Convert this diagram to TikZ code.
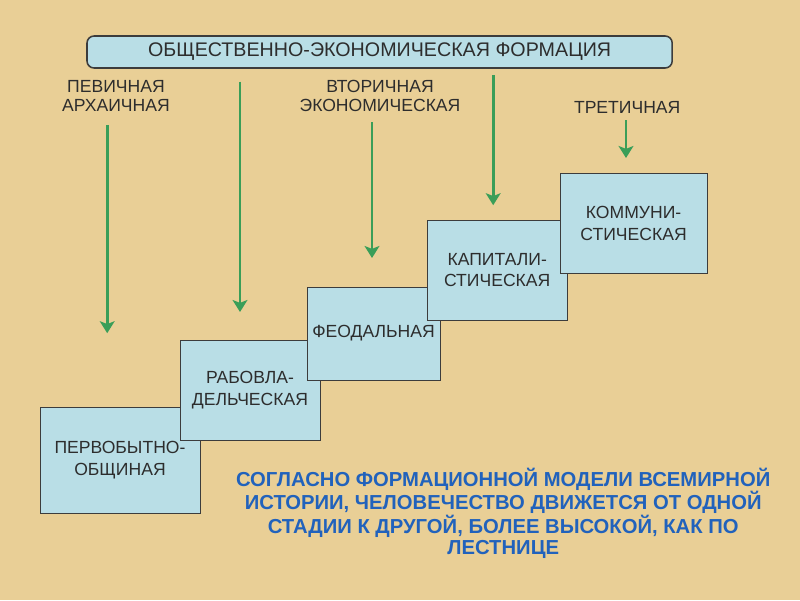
\documentclass[tikz,border=0pt]{standalone}
\usepackage{fontspec}
\setmainfont{Liberation Sans}
\usepackage{xcolor}
\usepackage{tikz}
\usetikzlibrary{arrows.meta,positioning}

\definecolor{bgtan}{RGB}{233,207,150}
\definecolor{stagefill}{RGB}{185,222,230}
\definecolor{stageline}{RGB}{60,60,60}
\definecolor{txtgray}{RGB}{45,45,45}
\definecolor{arrgreen}{RGB}{58,158,88}
\definecolor{notblue}{RGB}{33,98,188}

\begin{document}
\begin{tikzpicture}[
  >=Stealth,
  every node/.style={align=center},
  % Stage boxes
  stage/.style={
    rectangle, draw=stageline, fill=stagefill,
    line width=0.7pt, inner sep=2pt,
    text=txtgray, font=\fontsize{12.5}{15.5}\selectfont
  },
  head/.style={
    rectangle, rounded corners=5pt, draw=stageline, fill=stagefill,
    line width=1.1pt, minimum width=14.63cm, minimum height=0.8cm,
    text=txtgray, font=\fontsize{14}{16}\selectfont
  },
  % Sector labels
  sector/.style={text=txtgray, font=\fontsize{12.5}{14}\selectfont},
  note/.style={text=notblue, font=\bfseries\fontsize{14.4}{15}\selectfont},
  % Arrows
  garr/.style={->, draw=arrgreen, line width=2.1pt,
    >={Stealth[length=8.5pt,width=10.5pt,inset=2pt]}},
]

% background
\fill[bgtan] (0,0) rectangle (20,-15);

% -------------------------------------------------------
% TITLE
% -------------------------------------------------------
\node[head] (title) at (9.49,-1.3) {ОБЩЕСТВЕННО-ЭКОНОМИЧЕСКАЯ ФОРМАЦИЯ};

% -------------------------------------------------------
% SECTORS
% -------------------------------------------------------
\node[sector] (arch) at (2.9,-2.4)   {ПЕВИЧНАЯ\\АРХАИЧНАЯ};
\node[sector] (econ) at (9.5,-2.4)   {ВТОРИЧНАЯ\\ЭКОНОМИЧЕСКАЯ};
\node[sector] (tert) at (15.68,-2.68) {ТРЕТИЧНАЯ};

% -------------------------------------------------------
% STAGES (each one on top of the previous)
% -------------------------------------------------------
\node[stage, minimum width=4.0cm,  minimum height=2.65cm] (pervo) at (3.0,-11.5)   {ПЕРВОБЫТНО-\\ОБЩИНАЯ};
\node[stage, minimum width=3.5cm,  minimum height=2.5cm]  (rab)   at (6.25,-9.75)  {РАБОВЛА-\\ДЕЛЬЧЕСКАЯ};
\node[stage, minimum width=3.33cm, minimum height=2.33cm] (feod)  at (9.34,-8.34)  {ФЕОДАЛЬНАЯ};
\node[stage, minimum width=3.5cm,  minimum height=2.5cm]  (kap)   at (12.43,-6.75) {КАПИТАЛИ-\\СТИЧЕСКАЯ};
\node[stage, minimum width=3.68cm, minimum height=2.5cm]  (komm)  at (15.84,-5.58) {КОММУНИ-\\СТИЧЕСКАЯ};

% -------------------------------------------------------
% ARROWS
% -------------------------------------------------------
\coordinate (a1s) at (2.68,-3.12);  \coordinate (a1e) at (2.68,-8.33);
\coordinate (a2e) at (6.0,-7.8);
\coordinate (a3s) at (9.3,-3.05);   \coordinate (a3e) at (9.3,-6.45);
\coordinate (a4e) at (12.33,-5.13);
\coordinate (a5s) at (15.65,-3.0);  \coordinate (a5e) at (15.65,-3.95);

\draw[garr] (a1s) -- (a1e);
\draw[garr, shorten <=0.32cm] (title.south -| a2e) -- (a2e);
\draw[garr] (a3s) -- (a3e);
\draw[garr, shorten <=0.15cm] (title.south -| a4e) -- (a4e);
\draw[garr] (a5s) -- (a5e);

% -------------------------------------------------------
% NOTE
% -------------------------------------------------------
\node[note] (concl) at (12.58,-12.83) {СОГЛАСНО ФОРМАЦИОННОЙ МОДЕЛИ ВСЕМИРНОЙ\\ИСТОРИИ, ЧЕЛОВЕЧЕСТВО ДВИЖЕТСЯ ОТ ОДНОЙ\\СТАДИИ К ДРУГОЙ, БОЛЕЕ ВЫСОКОЙ, КАК ПО\\ЛЕСТНИЦЕ};

\end{tikzpicture}
\end{document}
